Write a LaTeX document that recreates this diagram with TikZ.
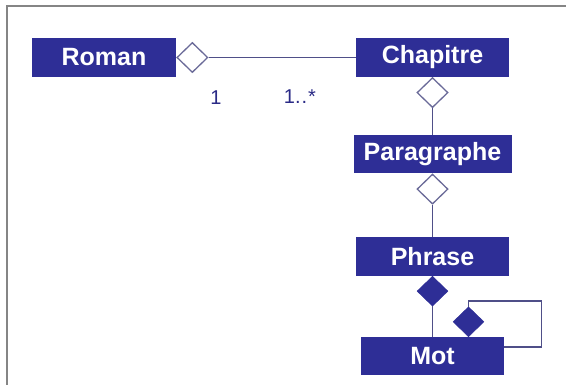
\documentclass[tikz,border=0pt]{standalone}
\usepackage{fontspec}
\setmainfont{Liberation Sans}
\usetikzlibrary{shapes.geometric}
\definecolor{boxblue}{HTML}{2E2E96}
\definecolor{linecol}{HTML}{4F4F88}
\definecolor{diacol}{HTML}{6A6A98}
\definecolor{framegray}{HTML}{858585}
\definecolor{multcol}{HTML}{2A2A86}
\begin{document}
\begin{tikzpicture}[x=1pt,y=-1pt,
  classbox/.style={draw=none, fill=boxblue, text=white, font=\fontsize{25}{27}\selectfont\bfseries, inner sep=0pt, minimum height=38.5pt},
  aggdia/.style={shape=diamond, draw=diacol, line width=1.3pt, fill=white, minimum width=31pt, minimum height=30pt, inner sep=0pt},
  compdia/.style={shape=diamond, draw=boxblue, fill=boxblue, minimum width=31pt, minimum height=30pt, inner sep=0pt},
  conn/.style={draw=linecol, line width=1.4pt},
  mult/.style={text=multcol, font=\fontsize{20}{22}\selectfont, inner sep=0pt}]
\useasboundingbox (0,0) rectangle (566,385);
\fill[white] (0,0) rectangle (566,385);
\draw[framegray, line width=2pt] (6.5,385) -- (6.5,6.5) -- (566,6.5);
% classes
\node[classbox, minimum width=144pt] (roman) at (104,57.5) {Roman};
\node[classbox, minimum width=153pt] (chap) at (432.5,57.5) {Chapitre};
\node[classbox, minimum width=158pt] (para) at (432.5,154) {Paragraphe};
\node[classbox, minimum width=153pt] (phr) at (432.5,256.5) {Phrase};
\node[classbox, minimum width=143pt] (mot) at (432.5,356) {Mot};
% diamonds
\node[aggdia, anchor=west] (d1) at (roman.east) {};
\node[aggdia, anchor=north] (d2) at (chap.south) {};
\node[aggdia, anchor=north] (d3) at (para.south) {};
\node[compdia, anchor=north] (d4) at (phr.south) {};
\node[compdia, anchor=south] (d5) at (468.5,337) {};
% connectors
\draw[conn] (d1.east) -- (chap.west);
\draw[conn] (d2.south) -- (para.north);
\draw[conn] (d3.south) -- (phr.north);
\draw[conn] (d4.south) -- (mot.north);
\coordinate (lt) at (541.5,301);
\coordinate (lb) at (541.5,347);
\draw[conn] (d5.north) |- (lt) -- (lb) -- (mot.east |- lb);
% multiplicities
\node[mult] (m1) at (216,98) {1};
\node[mult] (m2) at (300,97) {1.\kern1pt.\kern1pt*};
\end{tikzpicture}
\end{document}
